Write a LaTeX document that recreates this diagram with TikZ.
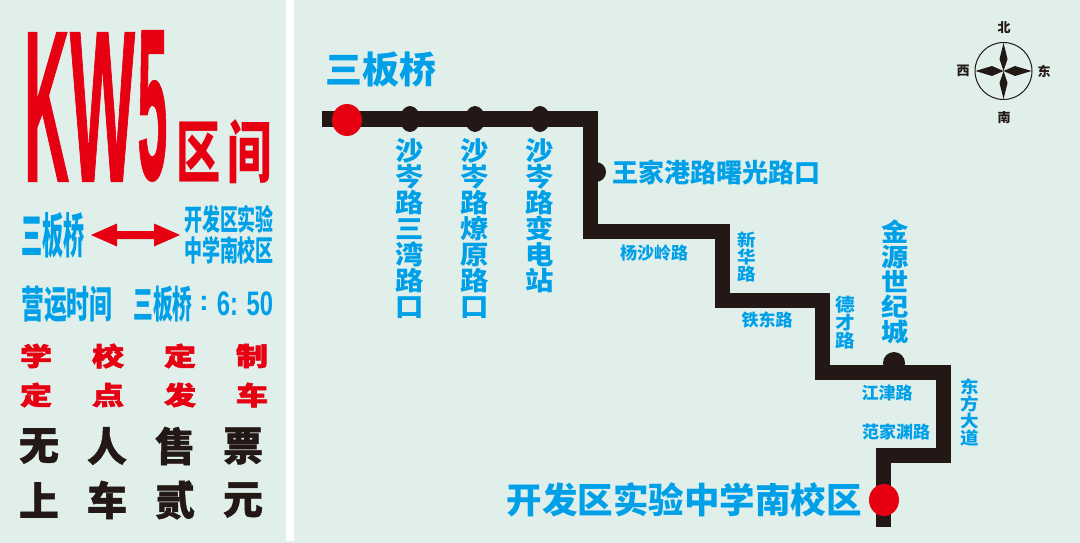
\documentclass[tikz,border=0pt]{standalone}
\usepackage{fontspec}
\usetikzlibrary{shapes.geometric}
\setmainfont{Liberation Sans}
\newfontfamily\cjk{Noto Sans CJK SC}
\newfontfamily\cjkheavy[FakeBold=2]{Noto Sans CJK SC}
\newfontfamily\cjksemi[FakeBold=1]{Noto Sans CJK SC}
\newfontfamily\kwfont[FakeBold=1]{Liberation Sans}
\definecolor{panelbg}{HTML}{E0EFEA}
\definecolor{routeblack}{HTML}{231815}
\definecolor{signred}{HTML}{E60012}
\definecolor{signblue}{HTML}{00A0E9}
\tikzset{
  bluetext/.style={text=signblue, inner sep=0pt, font=\cjk\bfseries\fontsize{#1}{#1}\selectfont},
  vertlabel/.style={bluetext=#1, align=center, xscale=1.09},
  titleletter/.style={text=signred, inner sep=0pt, xscale=#1, font=\kwfont\bfseries\fontsize{215}{215}\selectfont},
  redword/.style={text=signred, inner sep=0pt, yscale=0.8, font=\cjkheavy\bfseries\fontsize{32}{32}\selectfont},
  blackword/.style={text=routeblack, inner sep=0pt, font=\cjksemi\bfseries\fontsize{40}{40}\selectfont},
  compassword/.style={text=routeblack, inner sep=0pt, font=\cjk\bfseries\fontsize{13}{13}\selectfont},
  bigstop/.style={ellipse, fill=signred, minimum width=30pt, minimum height=32pt, inner sep=0pt},
  smallstop/.style={ellipse, fill=routeblack, minimum width=20pt, minimum height=26pt, inner sep=0pt},
  bumpstop/.style={circle, fill=routeblack, minimum size=#1, inner sep=0pt}
}
\begin{document}
\begin{tikzpicture}[x=1pt, y=-1pt]
  \useasboundingbox (0,0) rectangle (1080,543);
  \fill[panelbg] (0,0) rectangle (1080,543);
  \fill[white] (286,0) rectangle (294,541);
  % left panel
  \node[titleletter=0.29] (titlek) at (46.5,107) {K};
  \node[titleletter=0.32] (titlew) at (102.5,107) {W};
  \node[titleletter=0.25] (titlefive) at (152.5,106) {5};
  \node[text=signred, inner sep=0pt, xscale=0.65, font=\cjk\bfseries\fontsize{68}{68}\selectfont] (qu) at (199,152) {区};
  \node[text=signred, inner sep=0pt, xscale=0.65, font=\cjk\bfseries\fontsize{68}{68}\selectfont] (jian) at (250,152) {间};
  \node[bluetext=48, xscale=0.44] (fromname) at (53,235) {三板桥};
  \node[bluetext=29, xscale=0.62, align=center] (toname) at (229,235) {开发区实验\\[2pt]中学南校区};
  \fill[signred] (91,235) -- (117,223.5) -- (117,231) -- (154,231) -- (154,223.5) -- (180,235) -- (154,246.5) -- (154,239) -- (117,239) -- (117,246.5) -- cycle;
  \node[bluetext=38, xscale=0.6] (hours) at (67,304) {营运时间};
  \node[bluetext=38, xscale=0.52] (hourstop) at (163,304) {三板桥};
  \node[text=signblue, inner sep=0pt, font=\bfseries\fontsize{28}{28}\selectfont] (hourcolon) at (204,303) {:};
  \node[bluetext=24, xscale=0.7, font=\bfseries\fontsize{34}{34}\selectfont] (hourtime) at (245,304) {6: 50};
  \foreach \x/\a/\b in {36/学/定, 108/校/点, 180/定/发, 252/制/车} {
    \node[redword] at (\x,356) {\a};
    \node[redword] at (\x,395) {\b};
  }
  \foreach \x/\c/\d in {39/无/上, 107/人/车, 175/售/贰, 243/票/元} {
    \node[blackword] at (\x,446) {\c};
    \node[blackword] at (\x,500) {\d};
  }
  % route
  \coordinate (p0) at (322,119);
  \coordinate (p1) at (590,119);
  \coordinate (p2) at (590,231);
  \coordinate (p3) at (722,231);
  \coordinate (p4) at (722,300);
  \coordinate (p5) at (822,300);
  \coordinate (p6) at (822,372);
  \coordinate (p7) at (943,372);
  \coordinate (p8) at (943,455);
  \coordinate (p9) at (883,455);
  \coordinate (p10) at (883,527);
  \draw[routeblack, line width=15pt, miter limit=10] (p0) -- (p1) -- (p2) -- (p3) -- (p4) -- (p5) -- (p6) -- (p7) -- (p8) -- (p9) -- (p10);
  \node[smallstop] (s1) at (410,119) {};
  \node[smallstop] (s2) at (475,119) {};
  \node[smallstop] (s3) at (540,119) {};
  \node[bumpstop=20pt] (s4) at (596,172) {};
  \node[bumpstop=22pt] (s5) at (894,363) {};
  \node[bigstop] (first) at (347,120) {};
  \node[bigstop] (last) at (884,500) {};
  % labels
  \node[bluetext=37] (firstname) at (381,70) {三板桥};
  \node[bluetext=35.5] (lastname) at (684,500) {开发区实验中学南校区};
  \node[bluetext=26] (wangjia) at (716,172) {王家港路曙光路口};
  \node[vertlabel=26, anchor=north] at (410,138) {沙\\岑\\路\\三\\湾\\路\\口};
  \node[vertlabel=26, anchor=north] at (475,138) {沙\\岑\\路\\燎\\原\\路\\口};
  \node[vertlabel=26, anchor=north] at (540,138) {沙\\岑\\路\\变\\电\\站};
  \node[vertlabel=25, anchor=south] at (895,344) {金\\源\\世\\纪\\城};
  \node[bluetext=17] at (654,253) {杨沙岭路};
  \node[vertlabel=17, anchor=north] at (746.5,232) {新\\华\\路};
  \node[bluetext=17] at (767,320) {铁东路};
  \node[vertlabel=18, anchor=north] at (845.5,296) {德\\才\\路};
  \node[bluetext=17] at (887,393) {江津路};
  \node[bluetext=17] at (896,432) {范家渊路};
  \node[vertlabel=17, anchor=north] at (969.5,379) {东\\方\\大\\道};
  % compass
  \node[draw=routeblack, line width=1pt, circle, minimum size=57pt, inner sep=0pt] (dial) at (1003.5,71) {};
  \fill[routeblack] (1003.5,43) -- (1007.5,59) -- (1003.5,71) -- (999.5,59) -- cycle;
  \fill[routeblack] (1003.5,99) -- (1007.5,83) -- (1003.5,71) -- (999.5,83) -- cycle;
  \fill[routeblack] (975.5,71) -- (992,66) -- (1003.5,71) -- (992,76) -- cycle;
  \fill[routeblack] (1031.5,71) -- (1015,66) -- (1003.5,71) -- (1015,76) -- cycle;
  \node[compassword] (north) at (1004,28) {北};
  \node[compassword] (south) at (1004,118) {南};
  \node[compassword] (west) at (963,71) {西};
  \node[compassword] (east) at (1044,71) {东};
\end{tikzpicture}
\end{document}
